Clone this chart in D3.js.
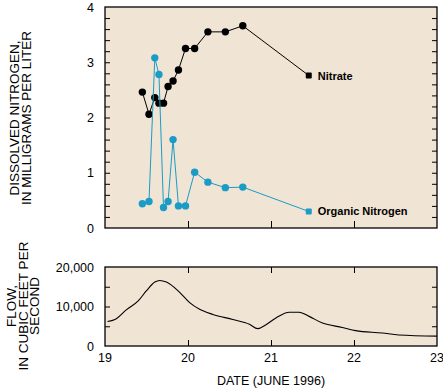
<!DOCTYPE html>
<html lang="en">
  <head>
    <meta charset="utf-8" />
    <title>Dissolved nitrogen and flow</title>
    <style>
      body {
        margin: 0;
        background: #ffffff;
      }
      text {
        font-family: "Liberation Sans", Arial, Helvetica, sans-serif;
        fill: #000;
      }
      .panel {
        fill: #f0e4d4;
        stroke: #000;
        stroke-width: 1.3px;
      }
    </style>
    <script src="https://d3js.org/d3.v7.min.js"></script>
  </head>
  <body>
    <svg width="443" height="388"></svg>
    <script>
      // sample dates (decimal day of June 1996), shared by both series
      var sampleDays = [19.45, 19.53, 19.6, 19.65, 19.705, 19.76, 19.82, 19.885,
        19.97, 20.08, 20.24, 20.45, 20.66, 21.455];
      var nitrate = [2.46, 2.06, 2.36, 2.26, 2.26, 2.56, 2.66, 2.86,
        3.25, 3.25, 3.55, 3.55, 3.66, 2.76];
      var organicN = [0.44, 0.48, 3.08, 2.78, 0.37, 0.48, 1.6, 0.4,
        0.4, 1.01, 0.83, 0.73, 0.74, 0.3];

      // streamflow hydrograph
      var flowDays = [19.03, 19.12, 19.26, 19.4, 19.5, 19.6, 19.66, 19.74, 19.9,
        20.02, 20.14, 20.3, 20.54, 20.74, 20.84, 20.94, 21.06, 21.22, 21.34,
        21.46, 21.62, 21.86, 22.02, 22.34, 22.54, 23.0];
      var flowValues = [6200, 6700, 9200, 11400, 14000, 16200, 16600, 16200, 13600,
        11000, 9300, 8000, 6700, 5500, 4400, 5400, 7100, 8550, 8550,
        7500, 5800, 4700, 3900, 3300, 2800, 2500];

      var dayTicks = [19, 20, 21, 22, 23];
      var nTicks = [0, 1, 2, 3, 4];
      var flowTicks = [0, 10000, 20000];

      var svg = d3.select("svg");
      var left = 105, right = 437;

      var x = d3.scaleLinear().domain([19, 23]).range([left, right]);
      var yN = d3.scaleLinear().domain([0, 4]).range([228, 7]);
      var yF = d3.scaleLinear().domain([0, 20000]).range([346, 267]);

      // ---- top panel ----
      svg.append("rect").attr("class", "panel")
        .attr("x", left).attr("y", yN(4))
        .attr("width", right - left).attr("height", yN(0) - yN(4));

      var minorN = d3.range(0.2, 4, 0.2);
      svg.append("g").attr("transform", `translate(${left},0)`)
        .call(d3.axisRight(yN).tickValues(minorN).tickSize(5).tickFormat(""))
        .call((g) => g.select(".domain").remove());
      svg.append("g").attr("transform", `translate(${right},0)`)
        .call(d3.axisLeft(yN).tickValues(minorN).tickSize(5).tickFormat(""))
        .call((g) => g.select(".domain").remove());
      svg.append("g").attr("transform", `translate(0,${yN(0)})`)
        .call(d3.axisTop(x).tickValues([20, 21, 22]).tickSize(7).tickFormat(""))
        .call((g) => g.select(".domain").remove());

      svg.append("g").selectAll("text").data(nTicks).enter().append("text")
        .attr("x", 94).attr("y", (d) => yN(d) + 4.5)
        .attr("text-anchor", "end").attr("font-size", 12.5)
        .text((d) => d);

      var pts = (vals) => sampleDays.map((d, i) => [x(d), yN(vals[i])]);
      var line = d3.line();

      function drawSeries(vals, color) {
        var p = pts(vals);
        svg.append("path").attr("d", line(p))
          .attr("fill", "none").attr("stroke", color).attr("stroke-width", 1);
        svg.append("g").selectAll("circle").data(p.slice(0, -1)).enter()
          .append("circle")
          .attr("cx", (d) => d[0]).attr("cy", (d) => d[1])
          .attr("r", 3.7).attr("fill", color);
        var last = p[p.length - 1];
        svg.append("rect")
          .attr("x", last[0] - 3).attr("y", last[1] - 3)
          .attr("width", 6).attr("height", 6).attr("rx", 1)
          .attr("fill", color);
      }
      drawSeries(nitrate, "#000");
      drawSeries(organicN, "#1a9cc6");

      svg.append("text").attr("x", x(sampleDays[13]) + 9)
        .attr("y", yN(nitrate[13]) + 4)
        .attr("font-size", 11).attr("font-weight", "bold")
        .text("Nitrate");
      svg.append("text").attr("x", x(sampleDays[13]) + 9)
        .attr("y", yN(organicN[13]) + 4)
        .attr("font-size", 11).attr("font-weight", "bold")
        .text("Organic Nitrogen");

      svg.append("text")
        .attr("transform", "translate(19,118) rotate(-90)")
        .attr("text-anchor", "middle").attr("font-size", 13.5)
        .text("DISSOLVED NITROGEN,");
      svg.append("text")
        .attr("transform", "translate(31,118) rotate(-90)")
        .attr("text-anchor", "middle").attr("font-size", 13.5)
        .text("IN MILLIGRAMS PER LITER");

      // ---- bottom panel ----
      svg.append("rect").attr("class", "panel")
        .attr("x", left).attr("y", yF(20000))
        .attr("width", right - left).attr("height", yF(0) - yF(20000));

      var minorF = [5000, 10000, 15000];
      svg.append("g").attr("transform", `translate(${left},0)`)
        .call(d3.axisRight(yF).tickValues(minorF).tickSize(5).tickFormat(""))
        .call((g) => g.select(".domain").remove());
      svg.append("g").attr("transform", `translate(${right},0)`)
        .call(d3.axisLeft(yF).tickValues(minorF).tickSize(5).tickFormat(""))
        .call((g) => g.select(".domain").remove());
      svg.append("g").attr("transform", `translate(0,${yF(0)})`)
        .call(d3.axisTop(x).tickValues([20, 21, 22]).tickSize(6).tickFormat(""))
        .call((g) => g.select(".domain").remove());
      svg.append("g").attr("transform", `translate(0,${yF(20000)})`)
        .call(d3.axisBottom(x).tickValues([20, 21, 22]).tickSize(6).tickFormat(""))
        .call((g) => g.select(".domain").remove());

      svg.append("g").selectAll("text").data(flowTicks).enter().append("text")
        .attr("x", 94).attr("y", (d) => yF(d) + 4.5)
        .attr("text-anchor", "end").attr("font-size", 12.5)
        .text(d3.format(","));

      svg.append("path")
        .attr("d", d3.line().curve(d3.curveMonotoneX)(flowDays.map((d, i) => [x(d), yF(flowValues[i])])))
        .attr("fill", "none").attr("stroke", "#000").attr("stroke-width", 1.1);

      svg.append("g").selectAll("text").data(dayTicks).enter().append("text")
        .attr("x", (d) => x(d)).attr("y", 362)
        .attr("text-anchor", "middle").attr("font-size", 12.5)
        .text((d) => d);

      svg.append("text").attr("x", 271).attr("y", 385)
        .attr("text-anchor", "middle").attr("font-size", 12.5)
        .text("DATE (JUNE 1996)");

      ["FLOW,", "IN CUBIC FEET PER", "SECOND"].forEach((t, i) => {
        svg.append("text")
          .attr("transform", `translate(${16 + i * 11.5},306) rotate(-90)`)
          .attr("text-anchor", "middle").attr("font-size", 13.5)
          .text(t);
      });
    </script>
  </body>
</html>
